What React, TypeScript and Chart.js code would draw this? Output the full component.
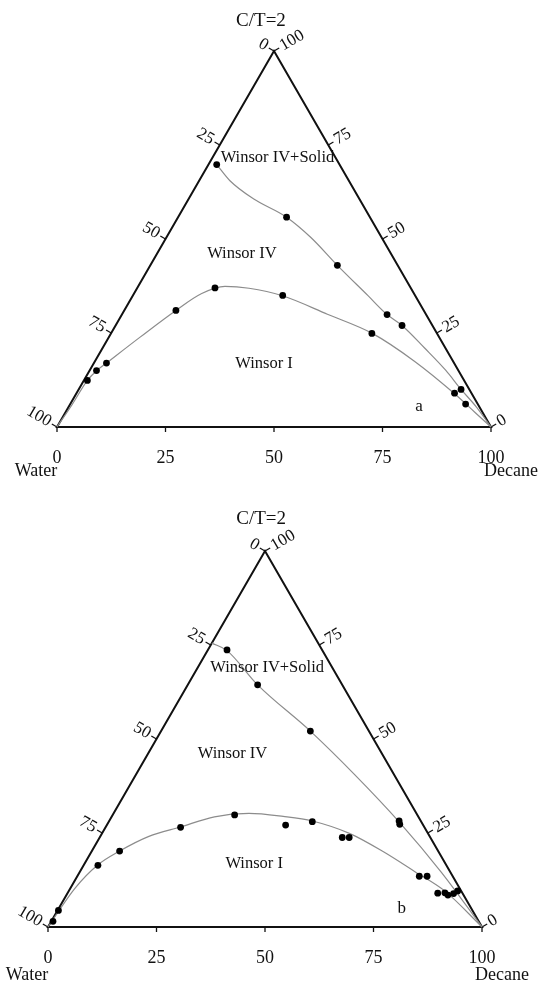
import React, { useEffect, useRef } from 'react';
import { Chart, registerables } from 'chart.js';

Chart.register(...registerables);

// ---------- axis tick values ----------
const baseTicks = [0, 25, 50, 75, 100]; // Decane %
const waterTicks = [0, 25, 50, 75, 100]; // left edge (Water %)
const surfTicks = [0, 25, 50, 75, 100]; // right edge (C/T %)
const regionNames = ['Winsor IV+Solid', 'Winsor IV', 'Winsor I'];

// ---------- panel a : measured points (decane %, surfactant %) ----------
const aLowerDotsDecane = [0.8, 1.6, 2.9, 11.9, 17.9, 34.5, 60.1, 87.1, 88.1, 91.1];
const aLowerDotsSurf = [12.4, 15.0, 17.0, 31.0, 37.0, 35.0, 24.9, 9.0, 10.0, 6.1];
const aUpperDotsDecane = [1.9, 25.0, 43.1, 61.1, 66.0];
const aUpperDotsSurf = [69.8, 55.8, 43.0, 29.9, 27.0];
// panel a : fitted boundary lines
const aLowerCurveDecane = [0, 0.5, 0.8, 1.6, 2.9, 7.2, 11.9, 15.6, 20.0, 25.8, 34.5, 47.3, 60.2, 73.6, 87.1, 94.2, 100];
const aLowerCurveSurf = [0, 6.1, 12.4, 14.9, 17.0, 23.9, 31.0, 35.5, 37.4, 36.9, 34.9, 30.0, 24.9, 17.5, 8.9, 4.0, 0];
const aUpperCurveDecane = [1.9, 7.1, 14.9, 25.0, 33.3, 43.1, 54.1, 61.1, 66.0, 74.2, 82.0, 88.1, 94.0, 100];
const aUpperCurveSurf = [69.8, 65.5, 60.7, 55.8, 50.4, 43.0, 35.0, 29.9, 27.0, 21.0, 15.1, 10.0, 5.3, 0];

// ---------- panel b : measured points ----------
const bLowerDotsDecane = [0.4, 0.2, 3.3, 6.4, 17.3, 28.1, 41.2, 46.9, 55.9, 57.5, 78.8, 80.6, 85.3, 86.9, 87.9, 89.0, 89.6];
const bLowerDotsSurf = [1.5, 4.4, 16.4, 20.2, 26.5, 29.8, 27.1, 28.0, 23.8, 23.8, 13.5, 13.5, 9.0, 9.1, 8.5, 8.9, 9.6];
const bUpperDotsDecane = [4.4, 16.1, 34.4, 66.8, 67.4];
const bUpperDotsSurf = [73.7, 64.4, 52.1, 28.2, 27.3];
// panel b : fitted boundary lines
const bLowerCurveDecane = [0, 0.2, 1.05, 3.2, 6.4, 11.2, 17.2, 23.7, 31.2, 39.5, 46.8, 57.0, 67.3, 77.2, 86.9, 100];
const bLowerCurveSurf = [0, 2.6, 10.3, 16.5, 20.2, 24.1, 26.6, 29.3, 30.2, 29.4, 28.2, 24.9, 20.0, 14.7, 9.4, 0];
const bUpperCurveDecane = [0, 4.5, 16.1, 34.4, 50.3, 67.0, 83.3, 100];
const bUpperCurveSurf = [75.5, 73.5, 64.4, 52.1, 40.6, 27.9, 14.6, 0];

const FONT = '"Liberation Serif", "Times New Roman", serif';
const INK = '#111';

// ternary (decane, surfactant) -> plot coords (x along base, y = height)
const toXY = (d: number[], s: number[]) => d.map((dv, i) => ({ x: dv + s[i] / 2, y: s[i] }));

const ternaryPlugin = {
  id: 'ternary',
  beforeDatasetsDraw(chart: any, _args: any, opts: any) {
    const { ctx } = chart;
    const sx = chart.scales.x;
    const sy = chart.scales.y;
    const P = (xv: number, yv: number) => [sx.getPixelForValue(xv), sy.getPixelForValue(yv)];
    const [lx, ly] = P(0, 0);
    const [rx, ry] = P(100, 0);
    const [tx, ty] = P(50, 100);
    ctx.save();
    ctx.strokeStyle = INK;
    ctx.lineWidth = 2;
    ctx.lineJoin = 'miter';
    ctx.beginPath();
    ctx.moveTo(lx, ly);
    ctx.lineTo(rx, ry);
    ctx.lineTo(tx, ty);
    ctx.closePath();
    ctx.stroke();

    const tickLen = 6;
    const c30 = Math.cos(Math.PI / 6);
    const s30 = Math.sin(Math.PI / 6);
    ctx.lineWidth = 1.3;
    ctx.fillStyle = INK;

    // base ticks
    ctx.font = `18px ${FONT}`;
    ctx.textAlign = 'center';
    ctx.textBaseline = 'middle';
    baseTicks.forEach((v) => {
      const [px, py] = P(v, 0);
      ctx.beginPath();
      ctx.moveTo(px, py);
      ctx.lineTo(px, py + 5);
      ctx.stroke();
      ctx.fillText(String(v), px, py + 31);
    });
    ctx.fillText('Water', lx - 21, ly + opts.nameDy);
    ctx.fillText('Decane', rx + 20, ry + opts.nameDy);

    // left edge: water
    ctx.font = `17px ${FONT}`;
    waterTicks.forEach((w) => {
      const s = 100 - w;
      const [px, py] = P(s / 2, s);
      const nx = -c30, ny = -s30;
      ctx.beginPath();
      ctx.moveTo(px, py);
      ctx.lineTo(px + nx * tickLen, py + ny * tickLen);
      ctx.stroke();
      ctx.save();
      ctx.translate(px + nx * (tickLen + 2), py + ny * (tickLen + 2));
      ctx.rotate(Math.PI / 6);
      ctx.textAlign = 'right';
      ctx.textBaseline = 'middle';
      ctx.fillText(String(w), 0, 0);
      ctx.restore();
    });

    // right edge: C/T
    surfTicks.forEach((s) => {
      const [px, py] = P(100 - s / 2, s);
      const nx = c30, ny = -s30;
      ctx.beginPath();
      ctx.moveTo(px, py);
      ctx.lineTo(px + nx * tickLen, py + ny * tickLen);
      ctx.stroke();
      ctx.save();
      ctx.translate(px + nx * (tickLen + 2), py + ny * (tickLen + 2));
      ctx.rotate(-Math.PI / 6);
      ctx.textAlign = 'left';
      ctx.textBaseline = 'middle';
      ctx.fillText(String(s), 0, 0);
      ctx.restore();
    });

    // title
    ctx.font = `19px ${FONT}`;
    ctx.textAlign = 'center';
    ctx.textBaseline = 'middle';
    const [ttx, tty] = P(opts.title[0], opts.title[1]);
    ctx.fillText('C/T=2', ttx, tty);
    ctx.restore();
  },
  afterDatasetsDraw(chart: any, _args: any, opts: any) {
    const { ctx } = chart;
    const sx = chart.scales.x;
    const sy = chart.scales.y;
    ctx.save();
    ctx.fillStyle = INK;
    ctx.textAlign = 'center';
    ctx.textBaseline = 'middle';
    ctx.font = `16.5px ${FONT}`;
    regionNames.forEach((name, i) => {
      const [xv, yv] = opts.regions[i];
      ctx.fillText(name, sx.getPixelForValue(xv), sy.getPixelForValue(yv));
    });
    ctx.font = `17px ${FONT}`;
    ctx.fillText(opts.letter, sx.getPixelForValue(opts.letterPos[0]), sy.getPixelForValue(opts.letterPos[1]));
    ctx.restore();
  },
};

type PanelCfg = {
  lowerDots: { x: number; y: number }[];
  upperDots: { x: number; y: number }[];
  lowerCurve: { x: number; y: number }[];
  upperCurve: { x: number; y: number }[];
  padding: { left: number; right: number; top: number; bottom: number };
  plugin: any;
};

function TernaryPanel({ cfg, top, height }: { cfg: PanelCfg; top: number; height: number }) {
  const ref = useRef<HTMLCanvasElement>(null);
  useEffect(() => {
    const lineStyle = {
      type: 'line' as const,
      borderColor: '#8c8c8c',
      borderWidth: 1.2,
      pointRadius: 0,
      fill: false,
      cubicInterpolationMode: 'monotone' as const,
      clip: false as any,
      order: 2,
    };
    const chart = new Chart(ref.current as HTMLCanvasElement, {
      type: 'scatter',
      data: {
        datasets: [
          { ...lineStyle, data: cfg.lowerCurve } as any,
          { ...lineStyle, data: cfg.upperCurve } as any,
          {
            type: 'scatter',
            data: [...cfg.lowerDots, ...cfg.upperDots],
            backgroundColor: '#000',
            borderWidth: 0,
            pointRadius: 3.4,
            clip: false as any,
            order: 0,
          } as any,
        ],
      },
      options: {
        responsive: false,
        maintainAspectRatio: false,
        animation: false,
        events: [],
        layout: { padding: cfg.padding },
        scales: {
          x: { type: 'linear', min: 0, max: 100, display: false },
          y: { type: 'linear', min: 0, max: 100, display: false },
        },
        plugins: {
          legend: { display: false },
          tooltip: { enabled: false },
          ternary: cfg.plugin,
        } as any,
      },
      plugins: [ternaryPlugin],
    });
    return () => chart.destroy();
  }, []);
  return (
    <canvas
      ref={ref}
      width={541}
      height={height}
      style={{ position: 'absolute', left: 0, top, width: 541, height, display: 'block' }}
    />
  );
}

const panelA: PanelCfg = {
  lowerDots: toXY(aLowerDotsDecane, aLowerDotsSurf),
  upperDots: toXY(aUpperDotsDecane, aUpperDotsSurf),
  lowerCurve: toXY(aLowerCurveDecane, aLowerCurveSurf),
  upperCurve: toXY(aUpperCurveDecane, aUpperCurveSurf),
  padding: { left: 57, right: 50, top: 51, bottom: 73 },
  plugin: {
    title: [47.0, 108.1],
    regions: [[50.8, 71.5], [42.6, 46.2], [47.7, 16.8]],
    letter: 'a',
    letterPos: [83.4, 5.4],
    nameDy: 44,
  },
};

const panelB: PanelCfg = {
  lowerDots: toXY(bLowerDotsDecane, bLowerDotsSurf),
  upperDots: toXY(bUpperDotsDecane, bUpperDotsSurf),
  lowerCurve: toXY(bLowerCurveDecane, bLowerCurveSurf),
  upperCurve: toXY(bUpperCurveDecane, bUpperCurveSurf),
  padding: { left: 48, right: 59, top: 51, bottom: 55 },
  plugin: {
    title: [49.1, 108.4],
    regions: [[50.5, 69.1], [42.5, 46.2], [47.5, 16.8]],
    letter: 'b',
    letterPos: [81.5, 4.8],
    nameDy: 48,
  },
};

export default function App() {
  return (
    <div style={{ position: 'absolute', left: 0, top: 0, width: 541, height: 982, background: '#fff', overflow: 'hidden' }}>
      <TernaryPanel cfg={panelA} top={0} height={500} />
      <TernaryPanel cfg={panelB} top={500} height={482} />
    </div>
  );
}
